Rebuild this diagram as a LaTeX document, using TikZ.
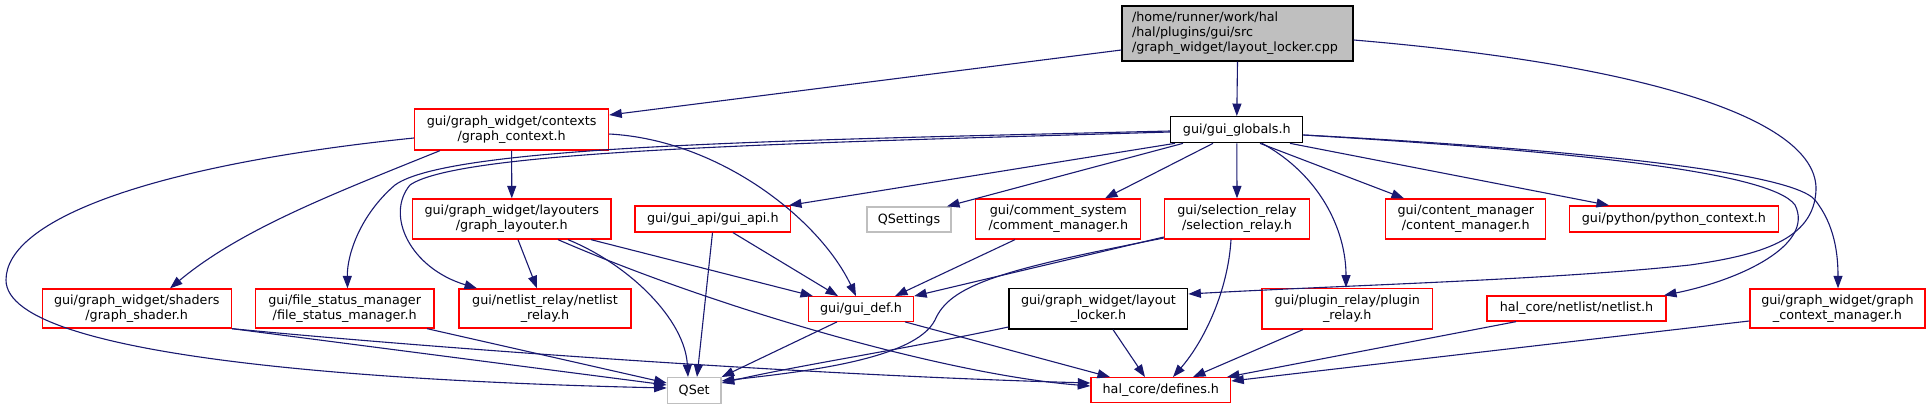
\documentclass[tikz,border=0pt]{standalone}
\usepackage{fontspec}
\setmainfont{DejaVu Sans}
\usetikzlibrary{arrows.meta}
\definecolor{edgeblue}{HTML}{191970}
\definecolor{boxred}{HTML}{FF0000}
\definecolor{boxgray}{HTML}{BFBFBF}
\begin{document}
\begin{tikzpicture}[x=1pt,y=-1pt,
  every node/.style={font=\fontsize{12.75}{15}\selectfont, inner sep=0pt, align=center},
  redbox/.style={draw=boxred, line width=1.3pt, fill=white},
  blackbox/.style={draw=black, line width=1.3pt, fill=white},
  graybox/.style={draw=boxgray, line width=1.3pt, fill=white},
  rootbox/.style={draw=black, line width=1.3pt, fill=boxgray, align=left, text width=211pt, inner xsep=10pt},
  dep/.style={draw=edgeblue, line width=1.1pt, -{Triangle[length=12.5pt,width=9pt]}}
]
\useasboundingbox (0,0) rectangle (1928,409);

% nodes
\node[rootbox, minimum height=55pt] (root) at (1237.5,33.5) {/home/runner/work/hal\\/hal/plugins/gui/src\\/graph\_widget/layout\_locker.cpp};
\node[redbox, minimum width=194pt, minimum height=41pt] (gc) at (511.6,129.5) {gui/graph\_widget/contexts\\/graph\_context.h};
\node[blackbox, minimum width=132pt, minimum height=26pt] (gg) at (1236.8,129.7) {gui/gui\_globals.h};
\node[redbox, minimum width=198.5pt, minimum height=40pt] (lay) at (511.8,219) {gui/graph\_widget/layouters\\/graph\_layouter.h};
\node[redbox, minimum width=155.5pt, minimum height=26pt] (api) at (712.8,219) {gui/gui\_api/gui\_api.h};
\node[graybox, minimum width=84pt, minimum height=25pt] (qsettings) at (909,219.5) {QSettings};
\node[redbox, minimum width=165pt, minimum height=40pt] (comment) at (1058.3,219) {gui/comment\_system\\/comment\_manager.h};
\node[redbox, minimum width=145pt, minimum height=40pt] (sel) at (1237,219) {gui/selection\_relay\\/selection\_relay.h};
\node[redbox, minimum width=160pt, minimum height=40pt] (content) at (1465.8,219) {gui/content\_manager\\/content\_manager.h};
\node[redbox, minimum width=209pt, minimum height=26pt] (python) at (1673.9,219) {gui/python/python\_context.h};
\node[redbox, minimum width=189pt, minimum height=39pt] (shader) at (136.7,308.5) {gui/graph\_widget/shaders\\/graph\_shader.h};
\node[redbox, minimum width=178.6pt, minimum height=39pt] (fsm) at (344.7,308.5) {gui/file\_status\_manager\\/file\_status\_manager.h};
\node[redbox, minimum width=172pt, minimum height=39pt] (nrelay) at (545,308.5) {gui/netlist\_relay/netlist\\\_relay.h};
\node[redbox, minimum width=105pt, minimum height=24.5pt] (gdef) at (861,309) {gui/gui\_def.h};
\node[blackbox, minimum width=178.6pt, minimum height=40.7pt] (locker) at (1098.4,308.6) {gui/graph\_widget/layout\\\_locker.h};
\node[redbox, minimum width=170.3pt, minimum height=40.7pt] (plugin) at (1347.2,308.6) {gui/plugin\_relay/plugin\\\_relay.h};
\node[redbox, minimum width=179pt, minimum height=25pt] (netlist) at (1576.5,308.5) {hal\_core/netlist/netlist.h};
\node[redbox, minimum width=175pt, minimum height=39pt] (gcm) at (1837.4,308.5) {gui/graph\_widget/graph\\\_context\_manager.h};
\node[graybox, minimum width=53.7pt, minimum height=25.7pt] (qset) at (694.2,390.5) {QSet};
\node[redbox, minimum width=139.7pt, minimum height=25pt] (defines) at (1160.8,390.2) {hal\_core/defines.h};

% edges from root
\draw[dep] (root.west |- 0,50) -- (gc.east |- 0,115);
\draw[dep] (root.south) -- (gg.north);
\draw[dep] (root.east |- 0,40) .. controls (1650,65) and (1818,120) .. (1816,190)
  .. controls (1814,240) and (1760,255) .. (1690,265)
  .. controls (1550,280) and (1350,285) .. (locker.east |- 0,294);

% edges from graph_context
\draw[dep] (gc.south) -- (lay.north);
\draw[dep] (gc.south -| 440,0) .. controls (330,195) and (240,230) .. (shader.north -| 170,0);
\draw[dep] (gc.west |- 0,138) .. controls (150,165) and (6,220) .. (6,280)
  .. controls (6,360) and (400,382) .. (qset.west |- 0,388);
\draw[dep] (gc.east |- 0,134) .. controls (720,140) and (820,220) .. (gdef.north -| 856,0);

% edges from gui_globals
\draw[dep] (gg.west |- 0,131) .. controls (800,140) and (450,145) .. (395,185)
  .. controls (360,215) and (347,255) .. (fsm.north -| 347.5,0);
\draw[dep] (gg.west |- 0,132) .. controls (800,143) and (460,150) .. (410,185)
  .. controls (385,215) and (410,268) .. (nrelay.north -| 477,0);
\draw[dep] (gg.south -| 1175,0) -- (api.north -| 789,0);
\draw[dep] (gg.south -| 1183,0) -- (qsettings.north -| 947,0);
\draw[dep] (gg.south -| 1213,0) -- (comment.north -| 1105,0);
\draw[dep] (gg.south) -- (sel.north);
\draw[dep] (gg.south -| 1260,0) -- (content.north -| 1404,0);
\draw[dep] (gg.south -| 1290,0) -- (python.north -| 1609,0);
\draw[dep] (gg.south -| 1262,0) .. controls (1320,175) and (1346,230) .. (plugin.north -| 1346,0);
\draw[dep] (gg.east |- 0,135) .. controls (1550,150) and (1770,170) .. (1795,205)
  .. controls (1815,245) and (1740,280) .. (netlist.north -| 1664,0);
\draw[dep] (gg.east |- 0,135) .. controls (1550,148) and (1790,170) .. (1815,200)
  .. controls (1835,225) and (1838,255) .. (gcm.north -| 1838,0);

% edges from graph_layouter
\draw[dep] (lay.south -| 518,0) -- (nrelay.north -| 537,0);
\draw[dep] (lay.south -| 591,0) -- (gdef.north -| 813,0);
\draw[dep] (lay.south -| 568,0) .. controls (630,265) and (685,320) .. (qset.north -| 688,0);
\draw[dep] (lay.south -| 558,0) .. controls (720,310) and (950,375) .. (defines.west |- 0,386);

% edges from gui_api
\draw[dep] (api.south -| 712.5,0) -- (qset.north -| 697,0);
\draw[dep] (api.south -| 733,0) -- (gdef.north -| 838,0);

% comment_manager
\draw[dep] (comment.south -| 1015,0) -- (gdef.north -| 895,0);

% selection_relay
\draw[dep] (sel.west |- 0,237) -- (gdef.north east);
\draw[dep] (sel.west |- 0,238) .. controls (1000,270) and (950,285) .. (935,320)
  .. controls (915,360) and (800,372) .. (qset.east |- 0,381);
\draw[dep] (sel.south -| 1231,0) .. controls (1228,290) and (1205,340) .. (defines.north -| 1173,0);

% gui_def
\draw[dep] (gdef.south -| 837,0) -- (qset.north east);
\draw[dep] (gdef.south -| 905,0) -- (defines.north -| 1110,0);

% layout_locker.h
\draw[dep] (locker.west |- 0,327) .. controls (900,350) and (800,365) .. (qset.east |- 0,383);
\draw[dep] (locker.south -| 1113,0) -- (defines.north -| 1145,0);

% plugin_relay, netlist, gcm
\draw[dep] (plugin.south -| 1303,0) -- (defines.north -| 1193,0);
\draw[dep] (netlist.south -| 1516,0) -- (defines.north -| 1227,0);
\draw[dep] (gcm.west |- 0,321) -- (defines.east |- 0,381);

% shader, file_status_manager
\draw[dep] (shader.south east) -- (qset.west |- 0,385);
\draw[dep] (shader.south east) .. controls (420,347) and (800,375) .. (defines.west |- 0,383);
\draw[dep] (fsm.south -| 427,0) -- (qset.west |- 0,383);
\end{tikzpicture}
\end{document}
